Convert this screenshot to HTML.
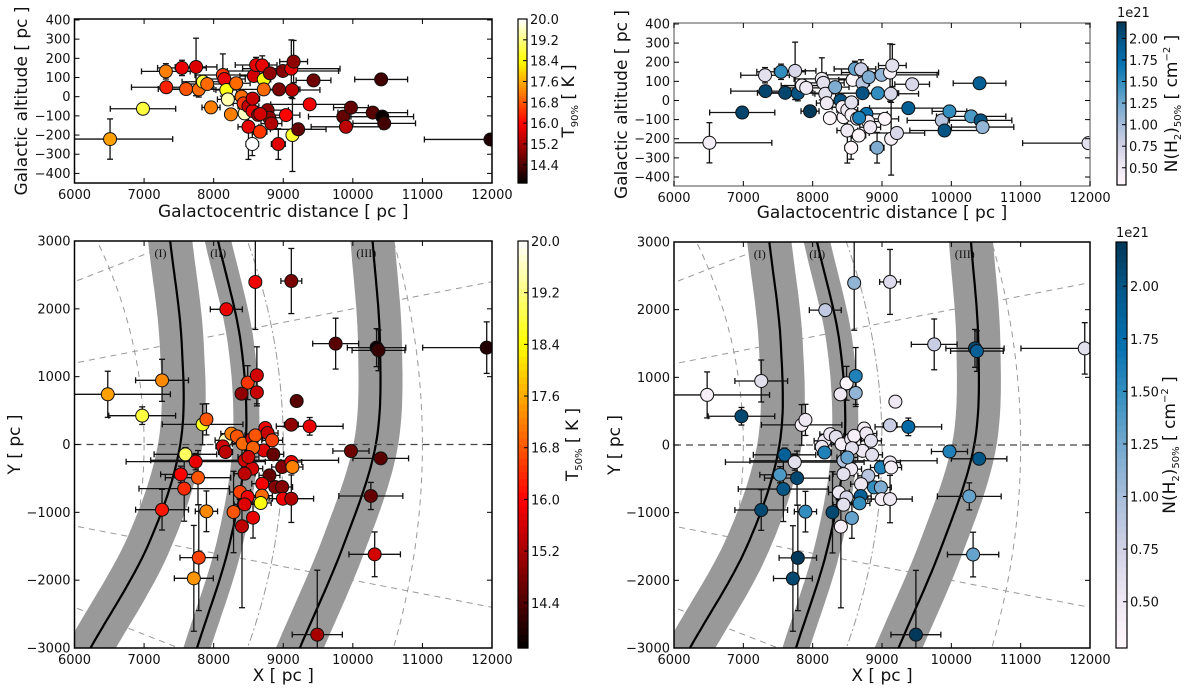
<!DOCTYPE html>
<html><head><meta charset="utf-8"><style>
html,body{margin:0;padding:0;background:#fff;overflow:hidden;width:1200px;height:693px;}
svg{display:block;font-family:"DejaVu Sans","Liberation Sans",sans-serif;overflow:hidden;}
</style></head><body>
<svg id="fig" width="1200" height="693" viewBox="0 0 1200 693"></svg>
<script>
// ---- Data: top panels (Galactocentric distance vs altitude) ----
const topR = [6511,6984,7313,7319,7544,7604,7747,7786,7846,7907,7962,8132,8154,8182,8204,8248,8324,8401,8445,8500,8555,8577,8610,8698,8720,8720,8665,8775,8808,8995,8940,9039,9116,9149,9127,9132,9215,8929,9380,9435,9863,9901,9973,10286,10407,10423,10451,11978,8430,8500,8560,8640,8800,8830,8560,8670];
const topZ = [-221,-63,132,49,150,40,155,38,78,66,-56,113,92,35,-14,-92,70,0,-87,-157,-247,108,165,163,90,38,-183,-70,122,134,38,-96,146,183,35,-200,-170,-247,-40,85,-104,-157,-57,-83,90,-104,-139,-223,-35,-50,-75,-95,-110,-140,-10,-90];
const topT = [17.5,18.8,17.2,16.3,15.8,16.8,15.7,17.0,18.8,17.0,17.2,16.5,15.8,18.5,19.5,17.2,17.0,17.0,19.6,15.8,20.0,15.6,15.8,15.8,18.5,17.0,16.5,15.0,15.0,14.9,14.8,16.0,15.8,15.0,15.4,18.7,14.6,15.7,15.9,14.7,14.6,15.4,14.6,14.5,14.3,13.8,14.3,14.0,16.5,15.5,15.8,15.2,15.0,15.3,15.5,15.6];
const topN = [0.45,2.1,0.6,2.1,1.5,2.1,0.7,2.0,0.4,0.5,2.2,0.5,0.6,0.6,0.5,0.3,1.2,2.0,0.3,0.5,0.3,0.3,1.3,0.8,0.9,2.0,0.3,1.7,1.2,1.1,1.5,0.3,0.4,0.6,0.7,0.4,0.7,1.2,1.9,0.7,0.9,2.0,1.5,1.4,1.9,2.0,1.1,0.6,0.4,0.5,0.4,0.6,0.5,0.5,0.6,1.6];
const topRerr = [900,470,350,500,350,400,300,400,300,300,130,400,300,150,150,60,200,200,200,150,90,200,300,100,100,500,100,300,200,800,300,200,700,200,400,60,400,100,560,250,500,500,250,500,380,450,450,950,150,150,150,150,200,150,100,150];
const topZerr = [105,20,40,15,40,15,150,40,20,20,15,110,20,30,20,20,30,30,30,170,60,30,40,50,20,20,30,30,20,20,20,20,150,110,30,190,30,80,20,20,30,30,20,20,20,20,20,10,30,30,30,30,30,30,30,30];
// ---- Data: bottom panels (X vs Y) ----
const botX = [8599,9116,8182,9753,10341,10369,11924,7258,6478,6973,7841,7896,8489,8621,8401,8621,9193,9116,9380,8742,9973,10401,7594,7742,7528,7775,7577,7258,7896,8286,8407,8566,7786,7715,10259,10314,9489,8171,8253,8335,8418,8132,8171,8555,8599,8775,8841,8720,8857,8445,8555,8445,8802,8984,9116,9132,8698,8885,8984,8379,8489,8445,8693,8676,8995,9116,8566,8500];
const botY = [2396,2410,1993,1487,1428,1388,1428,946,740,425,297,371,912,1020,749,769,641,292,268,243,-96,-204,-145,-253,-440,-489,-651,-961,-985,-995,-1206,-1079,-1668,-1973,-759,-1619,-2803,62,160,120,12,-27,-111,86,135,170,62,-86,-145,-233,-356,-430,-455,-332,-258,-332,-578,-626,-626,-700,-774,-882,-754,-862,-799,-799,-47,-184];
const botT = [15.9,14.8,15.8,14.5,13.8,14.2,14.0,17.3,17.5,18.8,18.6,16.8,16.5,15.6,15.0,15.5,14.5,15.0,15.8,15.9,14.7,14.5,19.0,15.8,16.0,16.8,16.4,16.2,17.3,16.8,15.4,15.8,16.6,17.4,14.6,15.6,15.2,19.6,17.2,16.8,17.0,15.6,15.4,15.8,16.8,15.5,16.6,15.7,14.6,15.6,15.6,15.4,14.6,14.9,15.8,17.2,15.9,14.9,14.9,16.6,15.9,15.7,17.0,18.5,15.9,15.3,16.9,15.6];
const botN = [1.1,0.65,0.85,0.8,2.1,1.9,0.6,0.6,0.4,2.1,0.4,0.5,0.3,1.6,0.5,1.1,0.5,0.8,1.8,0.45,1.6,2.0,1.9,0.6,1.4,2.1,2.0,2.1,1.5,2.1,0.4,1.3,2.2,2.1,1.3,1.3,2.2,0.5,0.5,0.6,0.4,0.5,1.6,0.5,0.4,0.5,0.6,0.5,0.6,0.9,0.5,0.6,0.9,1.6,0.5,0.4,0.5,1.5,1.2,0.5,0.7,0.6,1.9,1.5,0.4,0.5,0.6,1.3];
const botXerr = [40,150,230,330,420,380,920,380,900,480,580,80,80,60,60,60,40,100,480,60,260,400,450,1000,290,470,650,380,160,60,60,60,270,280,460,370,360,150,150,150,150,100,100,150,150,150,150,150,150,1350,150,150,150,150,150,150,150,150,150,150,150,150,150,150,150,320,150,150];
const botYerr = [700,480,60,375,280,300,380,310,340,130,300,230,250,420,80,200,40,60,130,60,60,60,100,120,120,400,480,300,300,600,1200,300,780,780,200,330,950,80,80,80,80,80,80,80,80,80,80,80,80,80,80,80,80,80,80,80,80,80,80,80,80,80,80,80,80,350,80,80];
// tick labels
const topXTicks = [6000,7000,8000,9000,10000,11000,12000];
const topYTicks = [400,300,200,100,0,-100,-200,-300,-400];
const botXTicks = [6000,7000,8000,9000,10000,11000,12000];
const botYTicks = [3000,2000,1000,0,-1000,-2000,-3000];
const tCbTicks = [20.0,19.2,18.4,17.6,16.8,16.0,15.2,14.4];
const nCbTicks = [2.00,1.75,1.50,1.25,1.00,0.75,0.50];

const NS = "http://www.w3.org/2000/svg";
const svg = document.getElementById('fig');
function mk(tag, attrs, parent){
  const e = document.createElementNS(NS, tag);
  for (const k in attrs) e.setAttribute(k, attrs[k]);
  (parent||svg).appendChild(e);
  return e;
}
function fmt(v){ return v < 0 ? '\u2212' + Math.abs(v) : String(v); }

function hot(t){
  t = Math.max(0, Math.min(1, t));
  const r = Math.min(1, t/0.365), g = Math.max(0, Math.min(1, (t-0.365)/0.381)), b = Math.max(0, Math.min(1, (t-0.746)/0.254));
  return `rgb(${Math.round(r*255)},${Math.round(g*255)},${Math.round(b*255)})`;
}
const pubuStops = ['#fff7fb','#ece7f2','#d0d1e6','#a6bddb','#74a9cf','#3690c0','#0570b0','#045a8d','#023858'];
function hex2rgb(h){ return [parseInt(h.slice(1,3),16),parseInt(h.slice(3,5),16),parseInt(h.slice(5,7),16)]; }
function pubu(t){
  t = Math.max(0, Math.min(1, t));
  const p = t*8, i = Math.min(7, Math.floor(p)), f = p - i;
  const a = hex2rgb(pubuStops[i]), b = hex2rgb(pubuStops[i+1]);
  return `rgb(${Math.round(a[0]+(b[0]-a[0])*f)},${Math.round(a[1]+(b[1]-a[1])*f)},${Math.round(a[2]+(b[2]-a[2])*f)})`;
}

// spiral arm shapes (background reference curves, sampled [y, x])
const armShapes = [
  {name:'arm-i', w:44, pts:[[3000,7375],[1500,7540],[0,7520],[-1500,7050],[-3000,6230]]},
  {name:'arm-ii', w:26, pts:[[3000,8063],[1500,8390],[0,8460],[-1500,8220],[-3000,7760]]},
  {name:'arm-iii', w:44, pts:[[3000,10284],[1500,10390],[0,10330],[-1500,9860],[-3000,9238]]}
];
function catmull(pts, n){
  const out = [];
  for (let i=0;i<pts.length-1;i++){
    const p0 = pts[Math.max(0,i-1)], p1 = pts[i], p2 = pts[i+1], p3 = pts[Math.min(pts.length-1,i+2)];
    for (let k=0;k<n;k++){
      const t=k/n, t2=t*t, t3=t2*t;
      const f = j => 0.5*((2*p1[j])+(-p0[j]+p2[j])*t+(2*p0[j]-5*p1[j]+4*p2[j]-p3[j])*t2+(-p0[j]+3*p1[j]-3*p2[j]+p3[j])*t3);
      out.push([f(0), f(1)]);
    }
  }
  out.push(pts[pts.length-1]);
  return out;
}
function extend(pts){
  // extrapolate ends so bands run past the frame
  const a = pts[0], b = pts[1], y = pts[pts.length-1], z = pts[pts.length-2];
  return [[2*a[0]-b[0], 2*a[1]-b[1]]].concat(pts, [[2*y[0]-z[0], 2*y[1]-z[1]]]);
}

let clipId = 0;
function panel(cfg){
  const g = mk('g', {});
  
  
  const sx = v => cfg.x0 + (v - cfg.xmin)/(cfg.xmax - cfg.xmin)*(cfg.x1 - cfg.x0);
  const sy = v => cfg.y1 - (v - cfg.ymin)/(cfg.ymax - cfg.ymin)*(cfg.y1 - cfg.y0);
  const cid = 'clip' + (clipId++);
  const cp = mk('clipPath', {id:cid}, g);
  mk('rect', {x:cfg.x0, y:cfg.y0, width:cfg.x1-cfg.x0, height:cfg.y1-cfg.y0}, cp);
  const plot = mk('g', {'clip-path':`url(#${cid})`}, g);
  
  

  if (cfg.map){
    [0.2,0.4,-0.2,-0.4].forEach(s => {
      const l = mk('line', {x1:sx(0), y1:sy(0), x2:sx(14000), y2:sy(14000*s), stroke:'#999', 'stroke-width':1, 'stroke-dasharray':'6,5'}, plot);
      
      
    });
    [7000,9000,11000].forEach((R,i) => {
      const c = mk('ellipse', {cx:sx(0), cy:sy(0), rx:sx(R)-sx(0), ry:sy(0)-sy(R), fill:'none', stroke:'#999', 'stroke-width':1, 'stroke-dasharray': i===1 ? '8,3,2,3' : '6,5'}, plot);
      
      
    });
    armShapes.forEach(a => {
      const pts = catmull(extend(a.pts), 16);
      const d = pts.map((p,i)=>(i?'L':'M')+sx(p[1]).toFixed(1)+','+sy(p[0]).toFixed(1)).join('');
      const band = mk('path', {d:d, fill:'none', stroke:'#999', 'stroke-width':a.w}, plot);
      
      
      const ln = mk('path', {d:d, fill:'none', stroke:'#000', 'stroke-width':2.2}, plot);
      
      
    });
    const zl = mk('line', {x1:cfg.x0, x2:cfg.x1, y1:sy(0), y2:sy(0), stroke:'#444', 'stroke-width':1.2, 'stroke-dasharray':'7,5'}, plot);
    
    
    [['(I)',7150],['(II)',7950],['(III)',10050]].forEach(([t,x]) => {
      const tx = mk('text', {x:sx(x), y:cfg.y0+16, 'font-size':12, 'font-family':'"Liberation Serif",serif', fill:'#111'}, g);
      tx.textContent = t;
      
      
    });
  }

  const xs = cfg.xs, ys = cfg.ys;
  for (let i=0;i<xs.length;i++){
    const eg = mk('g', {stroke:'#111', 'stroke-width':1.3}, plot);
    
    
    const px = sx(xs[i]), py = sy(ys[i]);
    const xl = sx(xs[i]-cfg.xe[i]), xr = sx(xs[i]+cfg.xe[i]);
    const yt = sy(ys[i]+cfg.ye[i]), yb = sy(ys[i]-cfg.ye[i]);
    mk('line', {x1:xl, x2:xr, y1:py, y2:py}, eg);
    mk('line', {x1:xl, x2:xl, y1:py-3, y2:py+3}, eg);
    mk('line', {x1:xr, x2:xr, y1:py-3, y2:py+3}, eg);
    mk('line', {x1:px, x2:px, y1:yt, y2:yb}, eg);
    mk('line', {x1:px-3, x2:px+3, y1:yt, y2:yt}, eg);
    mk('line', {x1:px-3, x2:px+3, y1:yb, y2:yb}, eg);
  }
  for (let i=0;i<xs.length;i++){
    const t = (cfg.cv[i]-cfg.cmin)/(cfg.cmax-cfg.cmin);
    const c = mk('circle', {cx:sx(xs[i]), cy:sy(ys[i]), r:6.5, fill:cfg.cmap(t), stroke:'#111', 'stroke-width':1}, plot);
    
    
  }

  const fr = mk('rect', {x:cfg.x0, y:cfg.y0, width:cfg.x1-cfg.x0, height:cfg.y1-cfg.y0, fill:'none', stroke:cfg.frame||'#000', 'stroke-width':1.5}, g);
  
  
  cfg.xticks.forEach(v => {
    const X = sx(v);
    mk('line', {x1:X, x2:X, y1:cfg.y1, y2:cfg.y1-5, stroke:'#000'}, g);
    mk('line', {x1:X, x2:X, y1:cfg.y0, y2:cfg.y0+5, stroke:'#000'}, g);
    const t = mk('text', {x:X, y:cfg.y1+16, 'text-anchor':'middle', 'font-size':13, fill:'#111'}, g);
    t.textContent = fmt(v);
    
    
  });
  cfg.yticks.forEach(v => {
    const Y = sy(v);
    mk('line', {x1:cfg.x0, x2:cfg.x0+5, y1:Y, y2:Y, stroke:'#000'}, g);
    mk('line', {x1:cfg.x1, x2:cfg.x1-5, y1:Y, y2:Y, stroke:'#000'}, g);
    const t = mk('text', {x:cfg.x0-4, y:Y+4.5, 'text-anchor':'end', 'font-size':13, fill:'#111'}, g);
    t.textContent = fmt(v);
    
    
  });
  const xl = mk('text', {x:(cfg.x0+cfg.x1)/2, y:cfg.xlabY, 'text-anchor':'middle', 'font-size':17, fill:'#111'}, g);
  xl.textContent = cfg.xlabel;
  
  
  const yl = mk('text', {x:0, y:0, 'text-anchor':'middle', 'font-size':17, fill:'#111', transform:`translate(${cfg.ylabX},${(cfg.y0+cfg.y1)/2}) rotate(-90)`}, g);
  yl.textContent = cfg.ylabel;
  
  
}

function colorbar(cfg){
  const g = mk('g', {});
  
  
  const n = 60, h = (cfg.y1-cfg.y0)/n;
  for (let i=0;i<n;i++){
    mk('rect', {x:cfg.x0, y:cfg.y1-(i+1)*h, width:cfg.x1-cfg.x0, height:h+0.6, fill:cfg.cmap((i+0.5)/n)}, g);
  }
  mk('rect', {x:cfg.x0, y:cfg.y0, width:cfg.x1-cfg.x0, height:cfg.y1-cfg.y0, fill:'none', stroke:'#000', 'stroke-width':1.2}, g);
  const sy = v => cfg.y1 - (v-cfg.vmin)/(cfg.vmax-cfg.vmin)*(cfg.y1-cfg.y0);
  cfg.ticks.forEach(v => {
    const Y = sy(v);
    mk('line', {x1:cfg.x1-4, x2:cfg.x1, y1:Y, y2:Y, stroke:'#000'}, g);
    const t = mk('text', {x:cfg.x1+3, y:Y+5, 'font-size':cfg.fs, fill:'#111'}, g);
    t.textContent = v.toFixed(cfg.dec);
    
    
  });
  if (cfg.exp){
    const e = mk('text', {x:cfg.x0, y:cfg.y0-5, 'font-size':13, fill:'#111'}, g);
    e.textContent = '1e21';
    
    
  }
  const lab = mk('text', {x:0, y:0, 'text-anchor':'middle', 'font-size':17, fill:'#111', transform:`translate(${cfg.labX},${(cfg.y0+cfg.y1)/2}) rotate(-90)`}, g);
  lab.innerHTML = cfg.label;
  
  
}

const tLabel = 'T<tspan font-size="10" dy="4">90%</tspan><tspan dy="-4">  [ K ]</tspan>';
const tLabel2 = 'T<tspan font-size="10" dy="4">50%</tspan><tspan dy="-4">  [ K ]</tspan>';
const nLabel = 'N(H<tspan font-size="10" dy="4">2</tspan><tspan dy="-4">)</tspan><tspan font-size="10" dy="4">50%</tspan><tspan dy="-4">  [ cm</tspan><tspan font-size="10" dy="-7">−2</tspan><tspan dy="7"> ]</tspan>';

const topBase = {xmin:6000, xmax:12000, xs:topR, ys:topZ, xe:topRerr, ye:topZerr, xticks:topXTicks, yticks:topYTicks, xlabel:'Galactocentric distance [ pc ]', ylabel:'Galactic altitude [ pc ]'};
const botBase = {xmin:6000, xmax:12000, ymin:-3000, ymax:3000, xs:botX, ys:botY, xe:botXerr, ye:botYerr, xticks:botXTicks, yticks:botYTicks, xlabel:'X [ pc ]', ylabel:'Y [ pc ]', map:true};

panel(Object.assign({}, topBase, {name:'panel-altitude-temperature', x0:74.5, x1:492, y0:19, y1:183, ymin:-450, ymax:405, cv:topT, cmin:13.7, cmax:20, cmap:hot, xlabY:217, ylabX:27}));
panel(Object.assign({}, topBase, {name:'panel-altitude-density', x0:674, x1:1090, y0:23, y1:186, ymin:-447, ymax:405, cv:topN, cmin:0.30, cmax:2.19, cmap:pubu, frame:'#888', xlabY:218, ylabX:627}));
panel(Object.assign({}, botBase, {name:'panel-xy-temperature', x0:74.5, x1:492, y0:241, y1:648, cv:botT, cmin:13.7, cmax:20, cmap:hot, xlabY:681, ylabX:20}));
panel(Object.assign({}, botBase, {name:'panel-xy-density', x0:674, x1:1090, y0:242, y1:648, cv:botN, cmin:0.28, cmax:2.21, cmap:pubu, xlabY:681, ylabX:620}));

colorbar({name:'colorbar-temperature-top', x0:518, x1:527, y0:19, y1:183, vmin:13.7, vmax:20, cmap:hot, ticks:tCbTicks, dec:1, fs:13, label:tLabel, labX:574});
colorbar({name:'colorbar-temperature-bottom', x0:518, x1:528, y0:241, y1:648, vmin:13.7, vmax:20, cmap:hot, ticks:tCbTicks, dec:1, fs:13, label:tLabel2, labX:578});
colorbar({name:'colorbar-density-top', x0:1117, x1:1126, y0:22, y1:185, vmin:0.30, vmax:2.19, cmap:pubu, ticks:nCbTicks, dec:2, fs:13, label:nLabel, labX:1177, exp:true});
colorbar({name:'colorbar-density-bottom', x0:1116, x1:1127, y0:242, y1:648, vmin:0.28, vmax:2.21, cmap:pubu, ticks:nCbTicks, dec:2, fs:13, label:nLabel, labX:1175, exp:true});
</script>
</body></html>
